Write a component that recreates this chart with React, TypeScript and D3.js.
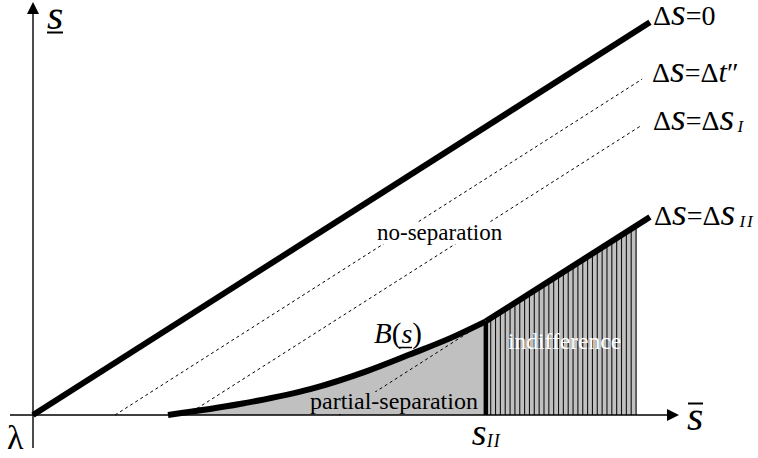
import React from "react";
import * as d3 from "d3";

// ---- data (abstract units, origin = λ) ----
const xDomain: [number, number] = [0, 100];
const yDomain: [number, number] = [0, 63.47];

const lineZero: [number, number][] = [[0, 0], [95.5, 60.8]];
const lineDt: [number, number][] = [[12.7, 0], [94.3, 52.0]];
const lineSI: [number, number][] = [[23.8, 0], [94.3, 44.9]];
const lineSIIdashed: [number, number][] = [[47.4, 0], [70.1, 14.5]];
const lineSII: [number, number][] = [[70.1, 14.5], [95.5, 30.65]];
const curveB: [number, number][] = [
  [20.9, 0], [32.0, 1.7], [42.9, 4.0], [51.7, 6.8], [58.4, 9.4], [64.6, 11.9], [70.1, 14.5],
];
const sII = 70.1;
const hatchEnd = 93.5;
const hatchStep = 0.75;

const W = 758, H = 458;
const SERIF = "'Liberation Serif', 'Times New Roman', serif";

export default function App() {
  const x = d3.scaleLinear().domain(xDomain).range([33, 679]);
  const y = d3.scaleLinear().domain(yDomain).range([415, 5]);
  const line = d3.line<[number, number]>().x((d) => x(d[0])).y((d) => y(d[1]));
  const curve = d3.line<[number, number]>().x((d) => x(d[0])).y((d) => y(d[1])).curve(d3.curveMonotoneX);

  const sIIY = (xv: number) => {
    const [a, b] = lineSII;
    return a[1] + ((xv - a[0]) * (b[1] - a[1])) / (b[0] - a[0]);
  };

  const grayArea = d3
    .area<[number, number]>()
    .x((d) => x(d[0]))
    .y0(y(0))
    .y1((d) => y(d[1]))
    .curve(d3.curveMonotoneX)(curveB) as string;

  const hatchPoly: [number, number][] = [
    [sII, 0], [sII, sIIY(sII)], [hatchEnd, sIIY(hatchEnd)], [hatchEnd, 0],
  ];
  const hatchXs = d3.range(sII + hatchStep, hatchEnd + 0.01, hatchStep);

  const x0 = x(0), y0 = y(0);
  const yTop = 2, xRight = 679;

  return (
    <svg width={W} height={H} style={{ position: "absolute", left: 0, top: 0, background: "#fff" }}
      fontFamily={SERIF}>
      {/* gray regions */}
      <path d={grayArea} fill="#c0c0c0" />
      <path d={line(hatchPoly) + "Z"} fill="#c0c0c0" />
      {hatchXs.map((hx, i) => (
        <line key={i} x1={x(hx)} x2={x(hx)} y1={y0} y2={y(sIIY(hx))} stroke="#111" strokeWidth={1.1} />
      ))}

      {/* dashed lines */}
      {[lineDt, lineSI, lineSIIdashed].map((l, i) => (
        <path key={i} d={line(l) as string} fill="none" stroke="#000" strokeWidth={1} strokeDasharray="3,3" />
      ))}

      {/* region labels with their backgrounds */}
      <rect x={374} y={222} width={132} height={22} fill="#fff" />
      <text x={377} y={240} fontSize={23}>no-separation</text>
      <rect x={307} y={392} width={174} height={22} fill="#c0c0c0" />
      <text x={310} y={409} fontSize={24}>partial-separation</text>

      {/* axes */}
      <line x1={10} x2={xRight - 10} y1={y0} y2={y0} stroke="#000" strokeWidth={1.4} />
      <line x1={x0} x2={x0} y1={448} y2={yTop + 10} stroke="#000" strokeWidth={1.4} />
      <path d={`M${x0},${yTop} L${x0 - 6},${yTop + 12} L${x0 + 6},${yTop + 12} Z`} fill="#000" />
      <path d={`M${xRight},${y0} L${xRight - 12},${y0 - 6} L${xRight - 12},${y0 + 6} Z`} fill="#000" />

      {/* thick lines */}
      <path d={line(lineZero) as string} fill="none" stroke="#000" strokeWidth={6} />
      <path d={curve(curveB) as string} fill="none" stroke="#000" strokeWidth={6} />
      <path d={line(lineSII) as string} fill="none" stroke="#000" strokeWidth={6} />
      <line x1={x(sII)} x2={x(sII)} y1={y0} y2={y(sIIY(sII))} stroke="#000" strokeWidth={4.5} />

      <text x={508} y={349} fontSize={23.5} fill="#fff">indifference</text>

      {/* line labels */}
      <text x={653} y={25} fontSize={28}>
        Δ<tspan fontStyle="italic" fontSize={38}>s</tspan>=0
      </text>
      <text x={652} y={82} fontSize={28}>
        Δ<tspan fontStyle="italic" fontSize={38}>s</tspan>=Δ<tspan fontStyle="italic" fontSize={30}>t</tspan>″
      </text>
      <text x={653} y={130} fontSize={28}>
        Δ<tspan fontStyle="italic" fontSize={38}>s</tspan>=Δ<tspan fontStyle="italic" fontSize={38}>s</tspan>
        <tspan fontStyle="italic" fontSize={17} dx={3} dy={2}>I</tspan>
      </text>
      <text x={654} y={225} fontSize={28}>
        Δ<tspan fontStyle="italic" fontSize={38}>s</tspan>=Δ<tspan fontStyle="italic" fontSize={38}>s</tspan>
        <tspan fontStyle="italic" fontSize={17} dx={4} dy={2} letterSpacing={2}>II</tspan>
      </text>

      {/* B(s) */}
      <text x={374} y={343} fontSize={29}>
        <tspan fontStyle="italic">B</tspan>(<tspan fontStyle="italic" fontSize={28}>s</tspan>)
      </text>
      <line x1={399} x2={412} y1={347.5} y2={347.5} stroke="#000" strokeWidth={1.5} />

      {/* axis labels */}
      <text x={47} y={29} fontSize={42} fontStyle="italic">s</text>
      <line x1={47} x2={63} y1={32.5} y2={32.5} stroke="#000" strokeWidth={2} />
      <text x={687} y={430} fontSize={42} fontStyle="italic">s</text>
      <line x1={688} x2={703} y1={403.5} y2={403.5} stroke="#000" strokeWidth={2} />
      <text x={7} y={449} fontSize={34}>λ</text>
      <text x={x(sII) - 14} y={445} fontSize={38} fontStyle="italic">
        s<tspan fontSize={18} dy={2} letterSpacing={1}>II</tspan>
      </text>
    </svg>
  );
}
